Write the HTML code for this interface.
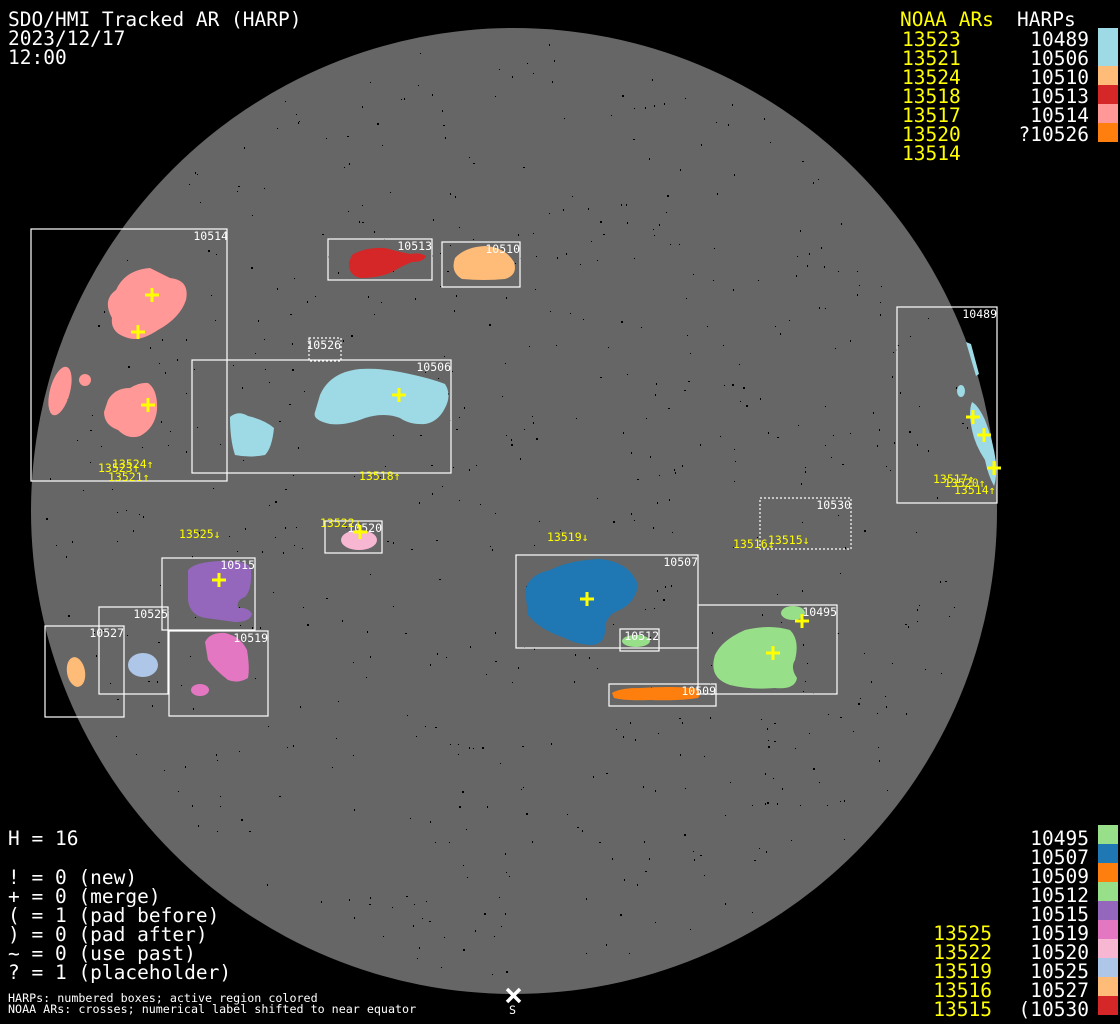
<!DOCTYPE html>
<html><head><meta charset="utf-8"><style>
html,body{margin:0;padding:0;background:#000;width:1120px;height:1024px;overflow:hidden}
svg{display:block}
.big{font-family:"DejaVu Sans Mono","Liberation Mono",monospace;font-size:19.5px}
.sm{font-family:"DejaVu Sans Mono","Liberation Mono",monospace;font-size:11.5px}
.bl{font-family:"DejaVu Sans Mono","Liberation Mono",monospace;font-size:11.7px;fill:#fff}
.y{fill:#ffff00}.w{fill:#fff}
.box{fill:none;stroke:#fff;stroke-width:1.2}
.dot{fill:none;stroke:#fff;stroke-width:1.2;stroke-dasharray:2 2}
.cr{stroke:#ffff00;stroke-width:3}
</style></head><body>
<svg id="s" width="1120" height="1024" viewBox="0 0 1120 1024" xmlns="http://www.w3.org/2000/svg">
<rect width="1120" height="1024" fill="#000"/>
<circle cx="514" cy="511" r="483" fill="#666"/>
<g id="spk" fill="#000"></g>

<g fill="#ff9896">
<path d="M116,290 Q125,270 150,268 L170,278 Q190,280 186,300 Q180,318 158,330 Q140,342 128,338 Q110,333 112,318 Q102,300 116,290Z"/>
<ellipse cx="60" cy="391" rx="10" ry="25" transform="rotate(15 60 391)"/>
<ellipse cx="85" cy="380" rx="6" ry="6"/>
<path d="M108,400 Q115,388 130,388 Q140,382 148,383 Q158,390 157,410 Q155,428 140,436 Q128,440 118,430 Q104,425 104,412Z"/>
</g>
<g fill="#9edae5">
<path d="M320,395 Q330,372 360,369 Q380,368 400,372 Q430,378 445,384 Q452,395 445,408 Q438,422 425,424 Q410,425 400,418 Q385,412 365,418 Q345,426 330,424 Q312,420 315,412 Q318,402 320,395Z"/>
<path d="M230,417 Q238,410 248,416 Q265,420 274,428 Q272,448 265,455 Q250,458 235,455 Q230,440 230,417Z"/>
</g>
<path fill="#d62728" d="M352,255 Q365,247 385,248 Q400,252 410,254 Q420,252 426,256 Q424,262 412,262 Q402,266 392,272 Q380,278 360,278 Q348,275 349,262Z"/>
<path fill="#ffbb78" d="M455,258 Q465,247 485,246 Q505,247 514,262 Q518,275 505,279 Q485,281 462,279 Q450,272 455,258Z"/>
<ellipse cx="359" cy="540" rx="18" ry="10" fill="#f7b6d2"/>
<path fill="#9467bd" d="M188,570 Q195,562 220,561 Q250,560 251,570 Q252,590 245,597 Q236,600 238,608 Q248,607 252,614 Q250,622 235,622 Q220,620 206,618 Q190,616 188,600Z"/>
<ellipse cx="143" cy="665" rx="15" ry="12" fill="#aec7e8"/>
<ellipse cx="76" cy="672" rx="9" ry="15" transform="rotate(-10 76 672)" fill="#ffbb78"/>
<g fill="#e377c2">
<path d="M205,642 Q210,632 225,633 Q240,636 247,650 Q250,668 248,678 Q238,684 228,680 Q215,670 208,660Z"/>
<ellipse cx="200" cy="690" rx="9" ry="6"/>
</g>
<path fill="#1f77b4" d="M525,590 Q530,574 550,570 Q570,560 600,559 Q630,562 638,585 Q635,605 615,612 Q605,618 605,630 Q605,645 590,645 Q575,644 565,638 Q540,630 528,615Z"/>
<ellipse cx="636" cy="641" rx="14" ry="6" fill="#98df8a"/>
<g fill="#98df8a">
<path d="M715,655 Q722,640 745,630 Q770,624 790,630 Q800,640 795,660 Q790,668 797,678 Q795,690 775,688 Q750,690 730,685 Q708,678 715,655Z"/>
<ellipse cx="793" cy="613" rx="12" ry="7"/>
</g>
<path fill="#ff7f0e" d="M612,693 Q620,688 640,688 Q670,686 695,688 Q703,692 698,698 Q680,701 650,700 Q625,701 614,698Z"/>
<g fill="#9edae5">
<path d="M966,342 L971,344 L979,374 L976,376Z"/>
<ellipse cx="961" cy="391" rx="4" ry="6"/>
<path d="M972,402 Q978,405 985,420 Q993,440 996,462 Q997,478 994,486 Q988,475 985,460 Q975,445 972,430 Q968,412 972,402Z"/>
</g>

<rect class="box" x="31" y="229" width="196" height="252"/>
<rect class="box" x="192" y="360" width="259" height="113"/>
<rect class="dot" x="309" y="338" width="32" height="23"/>
<rect class="box" x="328" y="239" width="104" height="41"/>
<rect class="box" x="442" y="242" width="78" height="45"/>
<rect class="box" x="325" y="521" width="57" height="32"/>
<rect class="box" x="162" y="558" width="93" height="72"/>
<rect class="box" x="99" y="607" width="69" height="87"/>
<rect class="box" x="45" y="626" width="79" height="91"/>
<rect class="box" x="169" y="631" width="99" height="85"/>
<rect class="box" x="516" y="555" width="182" height="93"/>
<rect class="box" x="620" y="629" width="39" height="22"/>
<rect class="box" x="698" y="605" width="139" height="89"/>
<rect class="box" x="609" y="684" width="107" height="22"/>
<rect class="dot" x="760" y="498" width="91" height="51"/>
<rect class="box" x="897" y="307" width="100" height="196"/>

<g class="sm w" text-anchor="end">
<text x="228" y="240">10514</text><text x="451" y="371">10506</text>
<text x="341" y="349">10526</text><text x="432" y="250">10513</text>
<text x="520" y="253">10510</text><text x="382" y="532">10520</text>
<text x="255" y="569">10515</text><text x="168" y="618">10525</text>
<text x="124" y="637">10527</text><text x="268" y="642">10519</text>
<text x="698" y="566">10507</text><text x="659" y="640">10512</text>
<text x="837" y="616">10495</text><text x="716" y="695">10509</text>
<text x="851" y="509">10530</text><text x="997" y="318">10489</text>
</g>
<g class="sm y">
<text x="98" y="472">13523↑</text><text x="112" y="468">13524↑</text>
<text x="108" y="481">13521↑</text><text x="359" y="480">13518↑</text>
<text x="179" y="538">13525↓</text><text x="320" y="527">13522↓</text>
<text x="547" y="541">13519↓</text><text x="733" y="548">13516↓</text>
<text x="768" y="544">13515↓</text><text x="933" y="483">13517↑</text>
<text x="944" y="487">13520↑</text><text x="954" y="494">13514↑</text>
</g>
<g class="cr">
<path d="M145,295h14M152,288v14"/><path d="M131,332h14M138,325v14"/>
<path d="M141,405h14M148,398v14"/><path d="M392,395h14M399,388v14"/>
<path d="M353,532h14M360,525v14"/><path d="M212,580h14M219,573v14"/>
<path d="M580,599h14M587,592v14"/><path d="M795,621h14M802,614v14"/>
<path d="M766,653h14M773,646v14"/><path d="M966,417h14M973,410v14"/>
<path d="M977,435h14M984,428v14"/><path d="M987,468h14M994,461v14"/>
</g>

<g class="big w"><text x="8" y="26">SDO/HMI Tracked AR (HARP)</text><text x="8" y="45">2023/12/17</text><text x="8" y="64">12:00</text></g>
<text class="big y" x="900" y="26">NOAA ARs</text><text class="big w" x="1017" y="26">HARPs</text>
<g class="big y"><text x="902" y="46">13523</text><text x="902" y="65">13521</text><text x="902" y="84">13524</text><text x="902" y="103">13518</text><text x="902" y="122">13517</text><text x="902" y="141">13520</text><text x="902" y="160">13514</text></g>
<g class="big w" text-anchor="end"><text x="1089" y="46">10489</text><text x="1089" y="65">10506</text><text x="1089" y="84">10510</text><text x="1089" y="103">10513</text><text x="1089" y="122">10514</text><text x="1089" y="141">?10526</text></g>
<rect x="1098" y="28" width="20" height="38" fill="#9edae5"/>
<rect x="1098" y="66" width="20" height="19" fill="#ffbb78"/>
<rect x="1098" y="85" width="20" height="19" fill="#d62728"/>
<rect x="1098" y="104" width="20" height="19" fill="#ff9896"/>
<rect x="1098" y="123" width="20" height="19" fill="#ff7f0e"/>

<g class="big w" text-anchor="end">
<text x="1089" y="845">10495</text><text x="1089" y="864">10507</text><text x="1089" y="883">10509</text><text x="1089" y="902">10512</text><text x="1089" y="921">10515</text><text x="1089" y="940">10519</text><text x="1089" y="959">10520</text><text x="1089" y="978">10525</text><text x="1089" y="997">10527</text><text x="1089" y="1016">(10530</text>
</g>
<g class="big y" text-anchor="end"><text x="992" y="940">13525</text><text x="992" y="959">13522</text><text x="992" y="978">13519</text><text x="992" y="997">13516</text><text x="992" y="1016">13515</text></g>
<rect x="1098" y="825" width="20" height="19" fill="#98df8a"/>
<rect x="1098" y="844" width="20" height="19" fill="#1f77b4"/>
<rect x="1098" y="863" width="20" height="19" fill="#ff7f0e"/>
<rect x="1098" y="882" width="20" height="19" fill="#98df8a"/>
<rect x="1098" y="901" width="20" height="19" fill="#9467bd"/>
<rect x="1098" y="920" width="20" height="19" fill="#e377c2"/>
<rect x="1098" y="939" width="20" height="19" fill="#f7b6d2"/>
<rect x="1098" y="958" width="20" height="19" fill="#aec7e8"/>
<rect x="1098" y="977" width="20" height="19" fill="#ffbb78"/>
<rect x="1098" y="996" width="20" height="19" fill="#d62728"/>

<g class="big w" xml:space="preserve"><text x="8" y="845">H = 16</text><text x="8" y="884">! = 0 (new)</text><text x="8" y="903">+ = 0 (merge)</text><text x="8" y="922">( = 1 (pad before)</text><text x="8" y="941">) = 0 (pad after)</text><text x="8" y="960">~ = 0 (use past)</text><text x="8" y="979">? = 1 (placeholder)</text></g>
<text class="bl" x="8" y="1002">HARPs: numbered boxes; active region colored</text>
<text class="bl" x="8" y="1013">NOAA ARs: crosses; numerical label shifted to near equator</text>
<path d="M507,989l13,13M520,989l-13,13" stroke="#fff" stroke-width="3.5"/>
<text class="bl" x="509" y="1014">S</text>
</svg>
<script>
(function(){var g=document.getElementById('spk');var s=12345;function r(){s=(s*1103515245+12345)%2147483648;return s/2147483648;}
var h='';for(var i=0;i<650;i++){var a=r()*6.2832,d=Math.sqrt(r())*470;var x=514+d*Math.cos(a),y=511+d*Math.sin(a);var w=r()<0.85?1:2;h+='<rect x="'+x.toFixed(0)+'" y="'+y.toFixed(0)+'" width="'+w+'" height="'+(r()<0.6?1:2)+'"/>';}
g.innerHTML=h;})();
</script>
</body></html>
